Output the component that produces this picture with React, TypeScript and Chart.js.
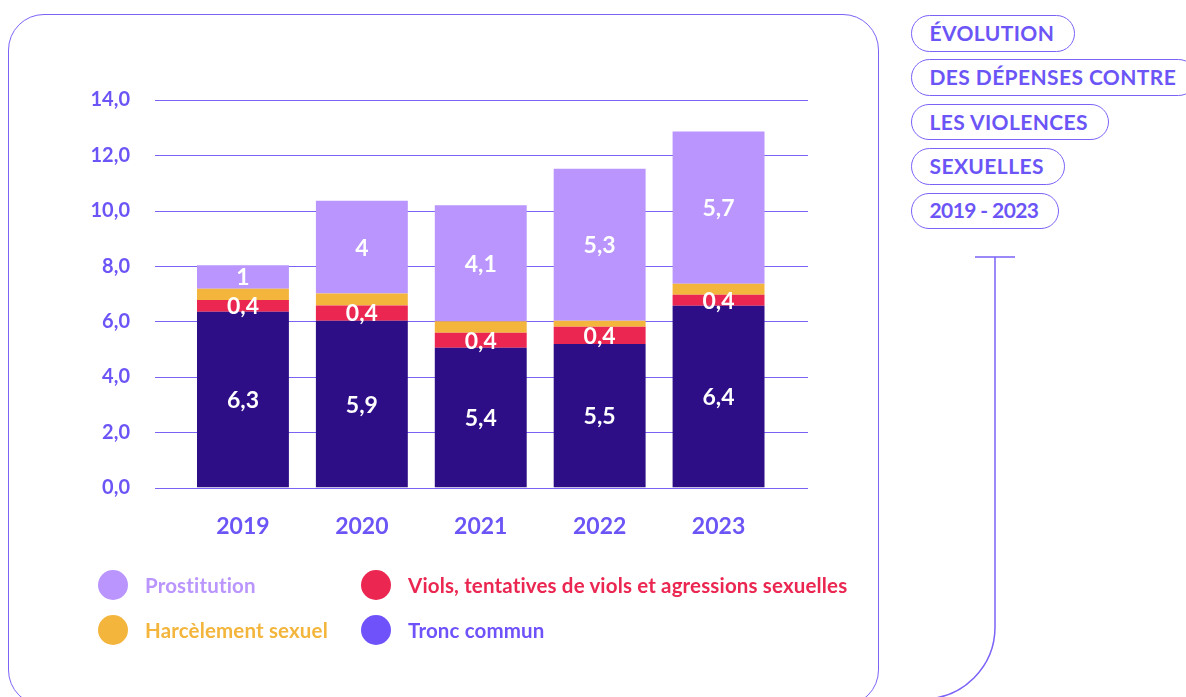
import React, { useEffect, useRef } from "react";
import { Chart, registerables } from "chart.js";

Chart.register(...registerables);

const years = ["2019", "2020", "2021", "2022", "2023"];
const troncCommun = [6.35, 6.03, 5.05, 5.19, 6.57];
const viols = [0.43, 0.55, 0.54, 0.62, 0.4];
const harcelement = [0.4, 0.43, 0.42, 0.22, 0.39];
const prostitution = [0.85, 3.35, 4.19, 5.49, 5.5];
const troncLabels = ["6,3", "5,9", "5,4", "5,5", "6,4"];
const violsLabels = ["0,4", "0,4", "0,4", "0,4", "0,4"];
const harcelementLabels = ["", "", "", "", ""];
const prostitutionLabels = ["1", "4", "4,1", "5,3", "5,7"];
const titleLines = ["ÉVOLUTION", "DES DÉPENSES CONTRE", "LES VIOLENCES", "SEXUELLES", "2019 - 2023"];

const C_LIGHT = "#b995fd";
const C_ORANGE = "#f3b53b";
const C_RED = "#ea2651";
const C_DARK = "#2d0e87";
const C_TRONC = "#7052fb";
const C_TEXT = "#6c55f6";
const C_LINE = "#7b63f7";
const FONT = "Lato, 'Open Sans', sans-serif";

const legendItems = [
  { label: "Prostitution", color: C_LIGHT, left: 98, top: 570 },
  { label: "Viols, tentatives de viols et agressions sexuelles", color: C_RED, left: 361, top: 570 },
  { label: "Harcèlement sexuel", color: C_ORANGE, left: 98, top: 615 },
  { label: "Tronc commun", color: C_TRONC, left: 361, top: 615 },
];

const gridPlugin = {
  id: "extGrid",
  beforeDatasetsDraw(chart: any) {
    const { ctx, chartArea, scales } = chart;
    const y = scales.y;
    ctx.save();
    ctx.strokeStyle = C_LINE;
    ctx.lineWidth = 1.2;
    y.ticks.forEach((t: any) => {
      const py = Math.round(y.getPixelForValue(t.value)) + 0.5;
      ctx.beginPath();
      ctx.moveTo(chartArea.left - 28.5, py);
      ctx.lineTo(chartArea.right + 30, py);
      ctx.stroke();
    });
    ctx.restore();
  },
};

const labelPlugin = {
  id: "barLabels",
  afterDatasetsDraw(chart: any) {
    const { ctx } = chart;
    ctx.save();
    ctx.fillStyle = "#ffffff";
    ctx.font = `bold 23px ${FONT}`;
    ctx.textAlign = "center";
    ctx.textBaseline = "middle";
    chart.data.datasets.forEach((ds: any, i: number) => {
      const meta = chart.getDatasetMeta(i);
      meta.data.forEach((el: any, j: number) => {
        const txt = ds.valueLabels[j];
        if (!txt) return;
        const props = el.getProps(["x", "y", "base"], true);
        ctx.fillText(txt, props.x, (props.y + props.base) / 2 + 1);
      });
    });
    ctx.restore();
  },
};

export default function App() {
  const ref = useRef<HTMLCanvasElement | null>(null);

  useEffect(() => {
    if (!ref.current) return;
    const chart = new Chart(ref.current, {
      type: "bar",
      data: {
        labels: years,
        datasets: [
          { label: "Tronc commun", data: troncCommun, backgroundColor: C_DARK, valueLabels: troncLabels } as any,
          { label: "Viols, tentatives de viols et agressions sexuelles", data: viols, backgroundColor: C_RED, valueLabels: violsLabels } as any,
          { label: "Harcèlement sexuel", data: harcelement, backgroundColor: C_ORANGE, valueLabels: harcelementLabels } as any,
          { label: "Prostitution", data: prostitution, backgroundColor: C_LIGHT, valueLabels: prostitutionLabels } as any,
        ],
      },
      options: {
        animation: false,
        responsive: false,
        maintainAspectRatio: false,
        layout: { padding: { left: 0, right: 102, top: 100, bottom: 0 } },
        datasets: { bar: { categoryPercentage: 1, barPercentage: 0.773 } },
        plugins: { legend: { display: false }, tooltip: { enabled: false } },
        scales: {
          x: {
            stacked: true,
            grid: { display: false, drawTicks: false },
            border: { display: false },
            ticks: { color: C_TEXT, font: { family: FONT, size: 23, weight: "bold" }, padding: 25 },
            afterFit: (s: any) => { s.height = 209.4; },
          },
          y: {
            stacked: true,
            min: 0,
            max: 14,
            grid: { display: false, drawTicks: false },
            border: { display: false },
            ticks: {
              stepSize: 2,
              color: C_TEXT,
              font: { family: FONT, size: 20, weight: "bold" },
              padding: 53.5,
              callback: (v: any) => Number(v).toFixed(1).replace(".", ","),
            },
            afterFit: (s: any) => { s.width = 183.5; },
          },
        },
      },
      plugins: [gridPlugin, labelPlugin],
    });
    return () => chart.destroy();
  }, []);

  return (
    <div style={{ position: "absolute", left: 0, top: 0, width: 1186, height: 697, overflow: "hidden", background: "#fff", fontFamily: FONT }}>
      <div style={{ position: "absolute", left: 8, top: 14, width: 871, height: 692, border: `1.5px solid ${C_LINE}`, borderRadius: 36, boxSizing: "border-box" }} />
      <canvas ref={ref} width={880} height={697} style={{ position: "absolute", left: 0, top: 0, width: 880, height: 697 }} />
      {legendItems.map((it) => (
        <div key={it.label} style={{ position: "absolute", left: it.left, top: it.top, height: 30, display: "flex", alignItems: "center", whiteSpace: "nowrap" }}>
          <span style={{ display: "inline-block", width: 30, height: 30, borderRadius: 15, background: it.color, marginRight: 17 }} />
          <span style={{ color: it.color, fontWeight: 700, fontSize: 20.5, letterSpacing: 0.15 }}>{it.label}</span>
        </div>
      ))}
      {titleLines.map((t, i) => (
        <div key={t} style={{ position: "absolute", left: 911, top: 15 + i * 44.4, height: 36.5, boxSizing: "border-box", border: `1.5px solid ${C_LINE}`, borderRadius: 19, padding: "0 20px 2px 17.5px", display: "flex", alignItems: "center", whiteSpace: "nowrap", color: C_TEXT, fontWeight: 700, fontSize: 21, letterSpacing: t === "2019 - 2023" ? -0.6 : 0.4 }}>
          {t}
        </div>
      ))}
      <svg width={1186} height={697} style={{ position: "absolute", left: 0, top: 0 }}>
        <path d="M 975 257 H 1015 M 995 257 V 627 A 72 72 0 0 1 923 699" fill="none" stroke={C_LINE} strokeWidth={1.5} />
      </svg>
    </div>
  );
}
